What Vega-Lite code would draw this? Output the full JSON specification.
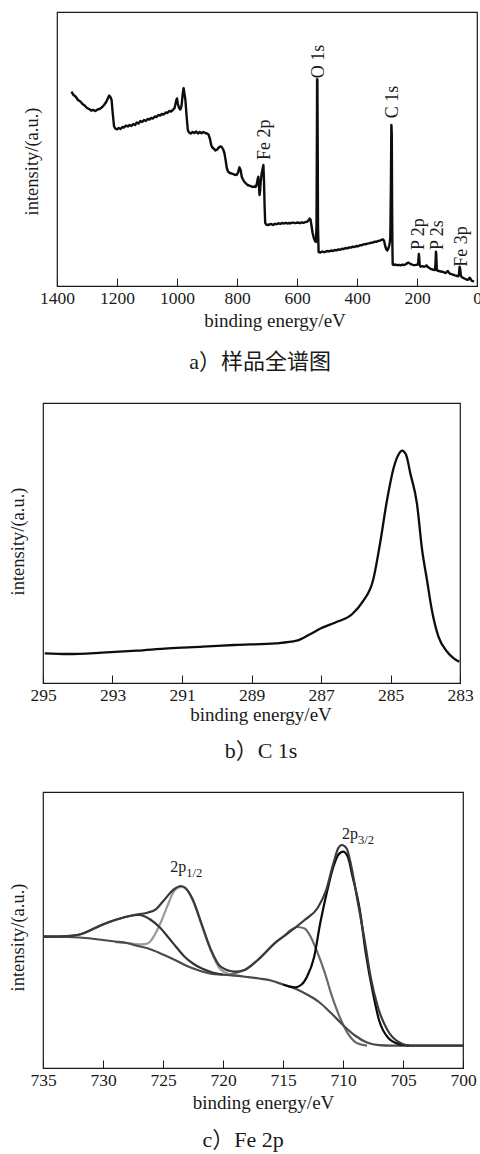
{
  "$schema": "https://vega.github.io/schema/vega-lite/v6.json",
  "background": "white",
  "padding": {"left": 7, "top": 11, "right": 2, "bottom": 2},
  "config": {
    "font": "Liberation Serif",
    "text": {"font": "Liberation Serif"},
    "style": {
      "guide-label": {"font": "Liberation Serif"},
      "guide-title": {"font": "Liberation Serif"}
    },
    "view": {"stroke": "#1a1a1a", "strokeWidth": 1.2},
    "axis": {"labelFont": "Liberation Serif", "titleFont": "Liberation Serif"},
    "axisX": {
      "grid": false,
      "tickSize": -8,
      "tickColor": "#1a1a1a",
      "tickWidth": 1,
      "domainColor": "#1a1a1a",
      "domainWidth": 1.2,
      "labelPadding": 11.4,
      "labelFont": "Liberation Serif",
      "labelFontSize": 17.5,
      "labelColor": "#1a1a1a",
      "labelFlush": false,
      "labelOverlap": false,
      "labelBaseline": "top",
      "format": "d",
      "titleFont": "Liberation Serif",
      "titleFontSize": 19,
      "titleFontWeight": "normal",
      "titleColor": "#1a1a1a",
      "titleBaseline": "alphabetic"
    },
    "axisY": {
      "grid": false,
      "labels": false,
      "ticks": false,
      "domain": false,
      "titleFont": "Liberation Serif",
      "titleFontSize": 18.5,
      "titleFontWeight": "normal",
      "titleColor": "#1a1a1a",
      "titlePadding": 16
    },
    "title": {
      "orient": "bottom",
      "anchor": "middle",
      "frame": "group",
      "font": "Liberation Serif, Noto Sans CJK SC",
      "fontSize": 22,
      "fontWeight": "normal",
      "color": "#1a1a1a",
      "baseline": "alphabetic"
    }
  },
  "datasets": {
    "survey": [
      {"energy": 1352, "intensity": 194.3}, {"energy": 1345, "intensity": 191}, {"energy": 1338, "intensity": 189.5},
      {"energy": 1330, "intensity": 186}, {"energy": 1322, "intensity": 184.5}, {"energy": 1315, "intensity": 182},
      {"energy": 1308, "intensity": 180.5}, {"energy": 1300, "intensity": 178}, {"energy": 1293, "intensity": 177},
      {"energy": 1286, "intensity": 175.5}, {"energy": 1279, "intensity": 176}, {"energy": 1272, "intensity": 175},
      {"energy": 1265, "intensity": 176.5}, {"energy": 1258, "intensity": 177}, {"energy": 1250, "intensity": 178.7},
      {"energy": 1243, "intensity": 181}, {"energy": 1236, "intensity": 184}, {"energy": 1230, "intensity": 188},
      {"energy": 1226, "intensity": 190.5}, {"energy": 1222, "intensity": 189}, {"energy": 1218, "intensity": 186},
      {"energy": 1214, "intensity": 172}, {"energy": 1210, "intensity": 160}, {"energy": 1206, "intensity": 157.5},
      {"energy": 1200, "intensity": 156.7}, {"energy": 1194, "intensity": 158}, {"energy": 1188, "intensity": 157},
      {"energy": 1182, "intensity": 159}, {"energy": 1176, "intensity": 158.5}, {"energy": 1170, "intensity": 160.5},
      {"energy": 1164, "intensity": 159.5}, {"energy": 1158, "intensity": 161}, {"energy": 1152, "intensity": 160},
      {"energy": 1146, "intensity": 162}, {"energy": 1140, "intensity": 161}, {"energy": 1134, "intensity": 163.5},
      {"energy": 1128, "intensity": 162.5}, {"energy": 1122, "intensity": 165}, {"energy": 1116, "intensity": 164},
      {"energy": 1110, "intensity": 166}, {"energy": 1104, "intensity": 165}, {"energy": 1098, "intensity": 167},
      {"energy": 1092, "intensity": 166.5}, {"energy": 1086, "intensity": 168}, {"energy": 1080, "intensity": 167.5},
      {"energy": 1074, "intensity": 169.5}, {"energy": 1068, "intensity": 169}, {"energy": 1062, "intensity": 171},
      {"energy": 1056, "intensity": 170.5}, {"energy": 1050, "intensity": 172}, {"energy": 1044, "intensity": 171.5},
      {"energy": 1038, "intensity": 173.5}, {"energy": 1032, "intensity": 173}, {"energy": 1026, "intensity": 175},
      {"energy": 1020, "intensity": 174.5}, {"energy": 1014, "intensity": 176}, {"energy": 1008, "intensity": 178},
      {"energy": 1003, "intensity": 185}, {"energy": 1000, "intensity": 187.5}, {"energy": 997, "intensity": 182},
      {"energy": 993, "intensity": 178}, {"energy": 989, "intensity": 176.5}, {"energy": 985, "intensity": 180},
      {"energy": 981, "intensity": 192}, {"energy": 978, "intensity": 197.7}, {"energy": 975, "intensity": 192},
      {"energy": 972, "intensity": 186}, {"energy": 968, "intensity": 170}, {"energy": 964, "intensity": 156},
      {"energy": 960, "intensity": 153.5}, {"energy": 954, "intensity": 152.5}, {"energy": 948, "intensity": 154},
      {"energy": 942, "intensity": 153}, {"energy": 936, "intensity": 154.5}, {"energy": 930, "intensity": 152.5},
      {"energy": 924, "intensity": 154}, {"energy": 918, "intensity": 152.8}, {"energy": 912, "intensity": 154},
      {"energy": 906, "intensity": 153}, {"energy": 900, "intensity": 152.5}, {"energy": 895, "intensity": 151.5},
      {"energy": 890, "intensity": 147}, {"energy": 886, "intensity": 141}, {"energy": 882, "intensity": 138.5},
      {"energy": 876, "intensity": 137}, {"energy": 872, "intensity": 135.5}, {"energy": 866, "intensity": 136.5},
      {"energy": 861, "intensity": 138.5}, {"energy": 856, "intensity": 139.5}, {"energy": 851, "intensity": 139},
      {"energy": 846, "intensity": 136.5}, {"energy": 842, "intensity": 133}, {"energy": 838, "intensity": 126},
      {"energy": 834, "intensity": 118}, {"energy": 830, "intensity": 114.5}, {"energy": 824, "intensity": 113},
      {"energy": 818, "intensity": 112.5}, {"energy": 812, "intensity": 111.8}, {"energy": 806, "intensity": 111},
      {"energy": 800, "intensity": 111.5}, {"energy": 796, "intensity": 114}, {"energy": 792, "intensity": 118.7},
      {"energy": 788, "intensity": 116}, {"energy": 784, "intensity": 109}, {"energy": 780, "intensity": 106.5},
      {"energy": 775, "intensity": 104}, {"energy": 770, "intensity": 102.5}, {"energy": 765, "intensity": 101},
      {"energy": 760, "intensity": 100.5}, {"energy": 754, "intensity": 99.8}, {"energy": 748, "intensity": 99},
      {"energy": 742, "intensity": 99.5}, {"energy": 738, "intensity": 99}, {"energy": 734, "intensity": 102},
      {"energy": 731, "intensity": 107}, {"energy": 729, "intensity": 109.3}, {"energy": 727, "intensity": 101},
      {"energy": 725, "intensity": 91}, {"energy": 723, "intensity": 95}, {"energy": 721, "intensity": 104},
      {"energy": 718, "intensity": 112}, {"energy": 714, "intensity": 118}, {"energy": 712, "intensity": 121},
      {"energy": 710, "intensity": 105}, {"energy": 708, "intensity": 80}, {"energy": 706, "intensity": 63},
      {"energy": 703, "intensity": 61.5}, {"energy": 698, "intensity": 61}, {"energy": 692, "intensity": 61.5},
      {"energy": 686, "intensity": 62}, {"energy": 680, "intensity": 61}, {"energy": 674, "intensity": 62.2},
      {"energy": 668, "intensity": 61.8}, {"energy": 662, "intensity": 62.8}, {"energy": 656, "intensity": 62},
      {"energy": 650, "intensity": 63}, {"energy": 644, "intensity": 62.5}, {"energy": 638, "intensity": 63.2},
      {"energy": 632, "intensity": 62.5}, {"energy": 626, "intensity": 63}, {"energy": 620, "intensity": 62.8},
      {"energy": 614, "intensity": 63.5}, {"energy": 608, "intensity": 62.8}, {"energy": 602, "intensity": 63.2},
      {"energy": 596, "intensity": 63.5}, {"energy": 590, "intensity": 62.8}, {"energy": 584, "intensity": 63.6},
      {"energy": 578, "intensity": 63.2}, {"energy": 572, "intensity": 64}, {"energy": 566, "intensity": 64.2},
      {"energy": 561, "intensity": 66}, {"energy": 558, "intensity": 67.5}, {"energy": 555, "intensity": 66.5},
      {"energy": 552, "intensity": 61}, {"energy": 548, "intensity": 53}, {"energy": 544, "intensity": 48},
      {"energy": 540, "intensity": 45}, {"energy": 537, "intensity": 44}, {"energy": 535, "intensity": 60},
      {"energy": 533.5, "intensity": 160}, {"energy": 533, "intensity": 206.7}, {"energy": 532, "intensity": 206},
      {"energy": 531, "intensity": 140}, {"energy": 530, "intensity": 60}, {"energy": 528, "intensity": 34},
      {"energy": 522, "intensity": 33.5}, {"energy": 516, "intensity": 34.5}, {"energy": 510, "intensity": 33.8},
      {"energy": 504, "intensity": 34.4}, {"energy": 498, "intensity": 35}, {"energy": 492, "intensity": 34.6},
      {"energy": 486, "intensity": 35.5}, {"energy": 480, "intensity": 35}, {"energy": 474, "intensity": 36},
      {"energy": 468, "intensity": 35.6}, {"energy": 462, "intensity": 36.6}, {"energy": 456, "intensity": 36.2},
      {"energy": 450, "intensity": 37.2}, {"energy": 444, "intensity": 37}, {"energy": 438, "intensity": 38},
      {"energy": 432, "intensity": 37.6}, {"energy": 426, "intensity": 38.6}, {"energy": 420, "intensity": 38.4},
      {"energy": 414, "intensity": 39.4}, {"energy": 408, "intensity": 39}, {"energy": 402, "intensity": 40},
      {"energy": 396, "intensity": 39.8}, {"energy": 390, "intensity": 40.8}, {"energy": 384, "intensity": 40.8},
      {"energy": 378, "intensity": 41.8}, {"energy": 372, "intensity": 41.6}, {"energy": 366, "intensity": 42.4},
      {"energy": 360, "intensity": 42.6}, {"energy": 354, "intensity": 43.2}, {"energy": 348, "intensity": 43.4},
      {"energy": 342, "intensity": 44.2}, {"energy": 336, "intensity": 44.2}, {"energy": 330, "intensity": 45},
      {"energy": 324, "intensity": 45.4}, {"energy": 318, "intensity": 46.2}, {"energy": 314, "intensity": 46.7},
      {"energy": 310, "intensity": 45.5}, {"energy": 306, "intensity": 40}, {"energy": 302, "intensity": 36.5},
      {"energy": 299, "intensity": 35.5}, {"energy": 296, "intensity": 37}, {"energy": 293, "intensity": 40},
      {"energy": 291, "intensity": 43}, {"energy": 289, "intensity": 48}, {"energy": 287, "intensity": 100},
      {"energy": 285.5, "intensity": 161}, {"energy": 285, "intensity": 160}, {"energy": 284, "intensity": 150},
      {"energy": 283, "intensity": 80}, {"energy": 282, "intensity": 40}, {"energy": 281, "intensity": 21.5},
      {"energy": 278, "intensity": 21}, {"energy": 272, "intensity": 21.5}, {"energy": 266, "intensity": 20.8},
      {"energy": 260, "intensity": 21.2}, {"energy": 254, "intensity": 20.6}, {"energy": 248, "intensity": 21.4},
      {"energy": 242, "intensity": 21}, {"energy": 236, "intensity": 22}, {"energy": 232, "intensity": 23},
      {"energy": 228, "intensity": 23.4}, {"energy": 224, "intensity": 22.5}, {"energy": 220, "intensity": 21.8},
      {"energy": 214, "intensity": 21.2}, {"energy": 208, "intensity": 20.8}, {"energy": 202, "intensity": 21.2},
      {"energy": 197, "intensity": 21.4}, {"energy": 195, "intensity": 26}, {"energy": 194, "intensity": 32},
      {"energy": 193, "intensity": 30}, {"energy": 191, "intensity": 21}, {"energy": 188, "intensity": 19.3},
      {"energy": 182, "intensity": 19.8}, {"energy": 176, "intensity": 19.2}, {"energy": 172, "intensity": 19.8},
      {"energy": 169, "intensity": 20.5}, {"energy": 167, "intensity": 20.3}, {"energy": 164, "intensity": 19},
      {"energy": 160, "intensity": 18.2}, {"energy": 156, "intensity": 17.4}, {"energy": 152, "intensity": 16.8},
      {"energy": 148, "intensity": 16.5}, {"energy": 144, "intensity": 16.2}, {"energy": 140, "intensity": 16},
      {"energy": 138, "intensity": 24}, {"energy": 137, "intensity": 34.3}, {"energy": 136, "intensity": 33},
      {"energy": 134, "intensity": 17}, {"energy": 132, "intensity": 15.3}, {"energy": 126, "intensity": 15},
      {"energy": 120, "intensity": 14.5}, {"energy": 116, "intensity": 14.3}, {"energy": 112, "intensity": 14},
      {"energy": 108, "intensity": 13.4}, {"energy": 104, "intensity": 13}, {"energy": 100, "intensity": 14.5},
      {"energy": 97, "intensity": 15}, {"energy": 94, "intensity": 13.5}, {"energy": 90, "intensity": 12.2},
      {"energy": 86, "intensity": 12}, {"energy": 82, "intensity": 11.5}, {"energy": 78, "intensity": 11.2},
      {"energy": 74, "intensity": 10.6}, {"energy": 70, "intensity": 10.4}, {"energy": 66, "intensity": 10},
      {"energy": 62, "intensity": 9.8}, {"energy": 60, "intensity": 12}, {"energy": 58, "intensity": 19.3},
      {"energy": 56, "intensity": 17}, {"energy": 54, "intensity": 11}, {"energy": 52, "intensity": 9.3},
      {"energy": 48, "intensity": 8.4}, {"energy": 44, "intensity": 7.8}, {"energy": 40, "intensity": 7.2},
      {"energy": 36, "intensity": 6.6}, {"energy": 32, "intensity": 6.2}, {"energy": 28, "intensity": 6.4},
      {"energy": 25, "intensity": 8.3}, {"energy": 22, "intensity": 7.5}, {"energy": 18, "intensity": 5.4},
      {"energy": 14, "intensity": 4.8}, {"energy": 10, "intensity": 4.4}
    ],
    "surveyPeaks": [
      {"peak": "O 1s", "energy": 527.7, "intensity": 207.7},
      {"peak": "C 1s", "energy": 280.6, "intensity": 167.7},
      {"peak": "Fe 2p", "energy": 708, "intensity": 126},
      {"peak": "P 2p", "energy": 191.7, "intensity": 36},
      {"peak": "P 2s", "energy": 130.6, "intensity": 36},
      {"peak": "Fe 3p", "energy": 50, "intensity": 19.3}
    ],
    "c1s": [
      {"energy": 294.95, "intensity": 29.7}, {"energy": 294.3, "intensity": 29}, {"energy": 293.3, "intensity": 30.3},
      {"energy": 292.3, "intensity": 32.3}, {"energy": 291.4, "intensity": 34.7}, {"energy": 290.4, "intensity": 36.3},
      {"energy": 289.5, "intensity": 38}, {"energy": 288.3, "intensity": 39.7}, {"energy": 287.7, "intensity": 42.3},
      {"energy": 287.3, "intensity": 49}, {"energy": 287, "intensity": 54.7}, {"energy": 286.6, "intensity": 60.3},
      {"energy": 286.1, "intensity": 69}, {"energy": 285.8, "intensity": 81.3}, {"energy": 285.5, "intensity": 103},
      {"energy": 285.3, "intensity": 139.7}, {"energy": 285.1, "intensity": 183}, {"energy": 284.9, "intensity": 216.3},
      {"energy": 284.76, "intensity": 229}, {"energy": 284.67, "intensity": 232.3}, {"energy": 284.55, "intensity": 228},
      {"energy": 284.43, "intensity": 209.7}, {"energy": 284.24, "intensity": 179.7}, {"energy": 284.09, "intensity": 133},
      {"energy": 283.95, "intensity": 103}, {"energy": 283.81, "intensity": 73}, {"energy": 283.62, "intensity": 46.3},
      {"energy": 283.37, "intensity": 31.3}, {"energy": 283.18, "intensity": 24.7}, {"energy": 283.02, "intensity": 21.3}
    ],
    "fe2p": [
      {"series": "2p1/2", "energy": 729, "intensity": 125.8}, {"series": "2p1/2", "energy": 728, "intensity": 125},
      {"series": "2p1/2", "energy": 727, "intensity": 123.6}, {"series": "2p1/2", "energy": 726.5, "intensity": 123.8},
      {"series": "2p1/2", "energy": 726.1, "intensity": 126}, {"series": "2p1/2", "energy": 725.7, "intensity": 133},
      {"series": "2p1/2", "energy": 725.1, "intensity": 148}, {"series": "2p1/2", "energy": 724.6, "intensity": 163},
      {"series": "2p1/2", "energy": 724.1, "intensity": 176.3}, {"series": "2p1/2", "energy": 723.7, "intensity": 180.5},
      {"series": "2p1/2", "energy": 723.4, "intensity": 181}, {"series": "2p1/2", "energy": 723, "intensity": 178},
      {"series": "2p1/2", "energy": 722.5, "intensity": 167}, {"series": "2p1/2", "energy": 721.8, "intensity": 143.5},
      {"series": "2p1/2", "energy": 721, "intensity": 117}, {"series": "2p1/2", "energy": 720.3, "intensity": 100},
      {"series": "2p1/2", "energy": 719.5, "intensity": 94}, {"series": "2p1/2", "energy": 718.5, "intensity": 92},

      {"series": "sat 713", "energy": 719.5, "intensity": 93}, {"series": "sat 713", "energy": 719, "intensity": 95},
      {"series": "sat 713", "energy": 718.2, "intensity": 98}, {"series": "sat 713", "energy": 717.1, "intensity": 108},
      {"series": "sat 713", "energy": 716.3, "intensity": 117.5}, {"series": "sat 713", "energy": 715.7, "intensity": 124.7},
      {"series": "sat 713", "energy": 714.9, "intensity": 132}, {"series": "sat 713", "energy": 714.4, "intensity": 137.5},
      {"series": "sat 713", "energy": 713.8, "intensity": 141}, {"series": "sat 713", "energy": 713.2, "intensity": 139.5},
      {"series": "sat 713", "energy": 712.7, "intensity": 131.3}, {"series": "sat 713", "energy": 712.1, "intensity": 114.7},
      {"series": "sat 713", "energy": 711.5, "intensity": 94.7}, {"series": "sat 713", "energy": 711, "intensity": 74.7},
      {"series": "sat 713", "energy": 710.4, "intensity": 54.7}, {"series": "sat 713", "energy": 709.6, "intensity": 34.7},
      {"series": "sat 713", "energy": 708.8, "intensity": 24.7}, {"series": "sat 713", "energy": 708, "intensity": 22.3},

      {"series": "background", "energy": 735, "intensity": 131.3}, {"series": "background", "energy": 733, "intensity": 131},
      {"series": "background", "energy": 731, "intensity": 129.5}, {"series": "background", "energy": 730, "intensity": 128},
      {"series": "background", "energy": 729, "intensity": 126.5}, {"series": "background", "energy": 728, "intensity": 125},
      {"series": "background", "energy": 727.4, "intensity": 123}, {"series": "background", "energy": 726, "intensity": 118.5},
      {"series": "background", "energy": 725, "intensity": 113.5}, {"series": "background", "energy": 724, "intensity": 108},
      {"series": "background", "energy": 723, "intensity": 102}, {"series": "background", "energy": 722, "intensity": 97.5},
      {"series": "background", "energy": 721, "intensity": 94.3}, {"series": "background", "energy": 720, "intensity": 93.3},
      {"series": "background", "energy": 719, "intensity": 92.3}, {"series": "background", "energy": 718, "intensity": 91},
      {"series": "background", "energy": 717, "intensity": 89.5}, {"series": "background", "energy": 716, "intensity": 87.5},
      {"series": "background", "energy": 715, "intensity": 83.5}, {"series": "background", "energy": 714, "intensity": 79.5},
      {"series": "background", "energy": 713, "intensity": 73.5}, {"series": "background", "energy": 712, "intensity": 66},
      {"series": "background", "energy": 711, "intensity": 55}, {"series": "background", "energy": 710, "intensity": 43},
      {"series": "background", "energy": 709, "intensity": 32.5}, {"series": "background", "energy": 708, "intensity": 25.5},
      {"series": "background", "energy": 707, "intensity": 22.8}, {"series": "background", "energy": 706, "intensity": 22.3},
      {"series": "background", "energy": 700, "intensity": 22.3},

      {"series": "sat 727", "energy": 735, "intensity": 131.3}, {"series": "sat 727", "energy": 733, "intensity": 132},
      {"series": "sat 727", "energy": 731.8, "intensity": 134}, {"series": "sat 727", "energy": 731, "intensity": 138},
      {"series": "sat 727", "energy": 729.9, "intensity": 144}, {"series": "sat 727", "energy": 728.8, "intensity": 148.7},
      {"series": "sat 727", "energy": 727.8, "intensity": 152}, {"series": "sat 727", "energy": 727.1, "intensity": 153},
      {"series": "sat 727", "energy": 726.5, "intensity": 151.5}, {"series": "sat 727", "energy": 726, "intensity": 148},
      {"series": "sat 727", "energy": 725.3, "intensity": 141}, {"series": "sat 727", "energy": 724.6, "intensity": 131.3},
      {"series": "sat 727", "energy": 723.9, "intensity": 121}, {"series": "sat 727", "energy": 723.2, "intensity": 111.3},
      {"series": "sat 727", "energy": 722.5, "intensity": 104.5}, {"series": "sat 727", "energy": 721.8, "intensity": 99.7},
      {"series": "sat 727", "energy": 721, "intensity": 96}, {"series": "sat 727", "energy": 720, "intensity": 93.3},

      {"series": "2p3/2", "energy": 715, "intensity": 83.5}, {"series": "2p3/2", "energy": 714, "intensity": 80.7},
      {"series": "2p3/2", "energy": 713.5, "intensity": 83}, {"series": "2p3/2", "energy": 713, "intensity": 91.3},
      {"series": "2p3/2", "energy": 712.4, "intensity": 111.3}, {"series": "2p3/2", "energy": 711.9, "intensity": 144.7},
      {"series": "2p3/2", "energy": 711.3, "intensity": 178}, {"series": "2p3/2", "energy": 710.8, "intensity": 201.3},
      {"series": "2p3/2", "energy": 710.4, "intensity": 213}, {"series": "2p3/2", "energy": 710, "intensity": 216.3},
      {"series": "2p3/2", "energy": 709.6, "intensity": 211.3}, {"series": "2p3/2", "energy": 709.2, "intensity": 191.3},
      {"series": "2p3/2", "energy": 708.6, "intensity": 158}, {"series": "2p3/2", "energy": 708.1, "intensity": 114.7},
      {"series": "2p3/2", "energy": 707.5, "intensity": 74.7}, {"series": "2p3/2", "energy": 707, "intensity": 48},
      {"series": "2p3/2", "energy": 706.2, "intensity": 29.7}, {"series": "2p3/2", "energy": 705.3, "intensity": 23.7},
      {"series": "2p3/2", "energy": 704.5, "intensity": 22.3},

      {"series": "envelope", "energy": 735, "intensity": 131.3}, {"series": "envelope", "energy": 733, "intensity": 132},
      {"series": "envelope", "energy": 731.8, "intensity": 134}, {"series": "envelope", "energy": 731, "intensity": 138},
      {"series": "envelope", "energy": 729.9, "intensity": 144}, {"series": "envelope", "energy": 728.8, "intensity": 148.7},
      {"series": "envelope", "energy": 727.4, "intensity": 153}, {"series": "envelope", "energy": 726.3, "intensity": 155.3},
      {"series": "envelope", "energy": 725.6, "intensity": 158.7}, {"series": "envelope", "energy": 724.9, "intensity": 168},
      {"series": "envelope", "energy": 724.1, "intensity": 178.7}, {"series": "envelope", "energy": 723.5, "intensity": 182},
      {"series": "envelope", "energy": 723.1, "intensity": 179.7}, {"series": "envelope", "energy": 722.5, "intensity": 168},
      {"series": "envelope", "energy": 721.8, "intensity": 144.7}, {"series": "envelope", "energy": 721, "intensity": 118},
      {"series": "envelope", "energy": 720.2, "intensity": 101.3}, {"series": "envelope", "energy": 719, "intensity": 96.3},
      {"series": "envelope", "energy": 718.2, "intensity": 98}, {"series": "envelope", "energy": 717.1, "intensity": 108},
      {"series": "envelope", "energy": 715.7, "intensity": 124.7}, {"series": "envelope", "energy": 714.6, "intensity": 134.7},
      {"series": "envelope", "energy": 713.2, "intensity": 148}, {"series": "envelope", "energy": 712.1, "intensity": 160.3},
      {"series": "envelope", "energy": 711.4, "intensity": 178}, {"series": "envelope", "energy": 710.8, "intensity": 204.7},
      {"series": "envelope", "energy": 710.4, "intensity": 219.7}, {"series": "envelope", "energy": 710.1, "intensity": 223},
      {"series": "envelope", "energy": 709.7, "intensity": 219.7}, {"series": "envelope", "energy": 709.3, "intensity": 201.3},
      {"series": "envelope", "energy": 708.8, "intensity": 168}, {"series": "envelope", "energy": 708.2, "intensity": 128},
      {"series": "envelope", "energy": 707.7, "intensity": 91.3}, {"series": "envelope", "energy": 707.1, "intensity": 61.3},
      {"series": "envelope", "energy": 706.3, "intensity": 38}, {"series": "envelope", "energy": 705.4, "intensity": 26.3},
      {"series": "envelope", "energy": 704.3, "intensity": 22.3}, {"series": "envelope", "energy": 700, "intensity": 22.3}
    ],
    "fe2pPeaks": [
      {"level": "2p", "sub": "1/2", "energy": 723.06, "intensity": 196.3},
      {"level": "2p", "sub": "3/2", "energy": 708.75, "intensity": 228.7}
    ]
  },
  "spacing": 28,
  "vconcat": [
    {
      "hconcat": [
        {
          "width": 14,
          "height": 274,
          "data": {"values": [{"gap": 0}]},
          "mark": {"type": "point", "opacity": 0},
          "view": {"stroke": null}
        },
        {
          "width": 420,
          "height": 274,
          "title": {"text": "a）样品全谱图", "dx": -7, "offset": 21},
          "layer": [
            {
              "data": {"name": "survey"},
              "mark": {"type": "line", "color": "#0d0d0d", "strokeWidth": 2.4, "strokeJoin": "round"},
              "encoding": {
                "x": {
                  "field": "energy", "type": "quantitative",
                  "scale": {"domain": [1400, 0], "nice": false},
                  "axis": {"title": "binding energy/eV", "values": [1400, 1200, 1000, 800, 600, 400, 200, 0], "titleX": 217.5, "titleY": 40.7, "labelFont": "Liberation Serif", "titleFont": "Liberation Serif"}
                },
                "y": {
                  "field": "intensity", "type": "quantitative",
                  "scale": {"domain": [0, 274], "nice": false},
                  "axis": {"title": "intensity/(a.u.)", "titleY": 149, "titleFont": "Liberation Serif"}
                }
              }
            },
            {
              "data": {"name": "surveyPeaks"},
              "mark": {"type": "text", "angle": 270, "align": "left", "baseline": "middle", "font": "Liberation Serif", "fontSize": 18, "color": "#1a1a1a"},
              "encoding": {
                "x": {"field": "energy", "type": "quantitative"},
                "y": {"field": "intensity", "type": "quantitative"},
                "text": {"field": "peak"}
              }
            }
          ]
        }
      ],
      "bounds": "flush",
      "spacing": 0
    },
    {
      "width": 417,
      "height": 280,
      "title": {"text": "b）C 1s", "dx": 9.5, "offset": 17},
      "data": {"name": "c1s"},
      "mark": {"type": "line", "color": "#0d0d0d", "strokeWidth": 2.3, "interpolate": "monotone"},
      "encoding": {
        "x": {
          "field": "energy", "type": "quantitative",
          "scale": {"domain": [295, 283], "nice": false},
          "axis": {"title": "binding energy/eV", "values": [295, 293, 291, 289, 287, 285, 283], "titleX": 217.5, "titleY": 37, "labelFont": "Liberation Serif", "titleFont": "Liberation Serif"}
        },
        "y": {
          "field": "intensity", "type": "quantitative",
          "scale": {"domain": [0, 280], "nice": false},
          "axis": {"title": "intensity/(a.u.)", "titleY": 138, "titleFont": "Liberation Serif"}
        }
      }
    },
    {
      "width": 420,
      "height": 276,
      "title": {"text": "c）Fe 2p", "dx": -10, "offset": 17},
      "layer": [
        {
          "data": {"name": "fe2p"},
          "mark": {"type": "line", "strokeWidth": 2.2, "interpolate": "monotone"},
          "encoding": {
            "x": {
              "field": "energy", "type": "quantitative",
              "scale": {"domain": [735, 700], "nice": false},
              "axis": {"title": "binding energy/eV", "values": [735, 730, 725, 720, 715, 710, 705, 700], "titleX": 220, "titleY": 40.7, "labelFont": "Liberation Serif", "titleFont": "Liberation Serif"}
            },
            "y": {
              "field": "intensity", "type": "quantitative",
              "scale": {"domain": [0, 276], "nice": false},
              "axis": {"title": "intensity/(a.u.)", "titleY": 145, "titleFont": "Liberation Serif"}
            },
            "color": {
              "field": "series", "type": "nominal", "legend": null,
              "scale": {
                "domain": ["2p1/2", "sat 713", "background", "sat 727", "2p3/2", "envelope"],
                "range": ["#9a9a9a", "#6a6a6a", "#4a4a4a", "#353535", "#0a0a0a", "#3a3a3a"]
              }
            }
          }
        },
        {
          "data": {"name": "fe2pPeaks"},
          "mark": {"type": "text", "align": "right", "baseline": "alphabetic", "font": "Liberation Serif", "fontSize": 16, "color": "#1a1a1a"},
          "encoding": {
            "x": {"field": "energy", "type": "quantitative"},
            "y": {"field": "intensity", "type": "quantitative"},
            "text": {"field": "level"}
          }
        },
        {
          "data": {"name": "fe2pPeaks"},
          "mark": {"type": "text", "align": "left", "baseline": "alphabetic", "font": "Liberation Serif", "fontSize": 12.5, "dy": 5, "color": "#1a1a1a"},
          "encoding": {
            "x": {"field": "energy", "type": "quantitative"},
            "y": {"field": "intensity", "type": "quantitative"},
            "text": {"field": "sub"}
          }
        }
      ]
    }
  ]
}
